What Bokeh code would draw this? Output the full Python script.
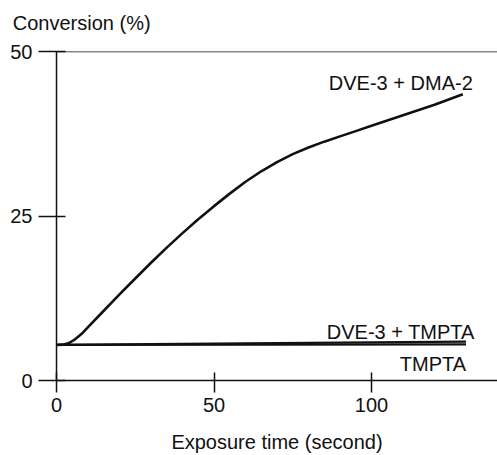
from bokeh.plotting import figure
from bokeh.models import Span, Range1d, FixedTicker, Label, LinearAxis
from bokeh.embed import file_html
from bokeh.resources import INLINE

# Conversion vs. exposure time for three formulations
t_dma = [0, 2, 4, 6, 8, 10, 15, 20, 25, 30, 35, 40, 45, 50, 55, 60, 65, 70, 75, 80, 85, 90,
         95, 100, 110, 120, 129]
conv_dma = [5.4, 5.45, 5.7, 6.3, 7.1, 8.1, 10.6, 13.1, 15.5, 17.9, 20.2, 22.4, 24.5, 26.5, 28.4,
            30.2, 31.8, 33.2, 34.4, 35.4, 36.3, 37.1, 37.9, 38.7, 40.3, 41.9, 43.5]

t_dve_tmpta = [0, 130]
conv_dve_tmpta = [5.4, 5.9]

t_tmpta = [0, 130]
conv_tmpta = [5.4, 5.5]

x_ticks = [0, 50, 100]
y_ticks = [0, 25, 50]

FONT = "Liberation Sans"
FS = "20px"
INK = "#111111"

p = figure(width=497, height=455, output_backend="svg", toolbar_location=None,
           x_range=Range1d(0, 140), y_range=Range1d(0, 50),
           min_border_left=56, min_border_right=0, min_border_top=51, min_border_bottom=75)
p.outline_line_color = None
p.xgrid.visible = False
p.ygrid.visible = False
p.background_fill_color = "white"
p.border_fill_color = "white"

xa = p.xaxis[0]
xa.ticker = FixedTicker(ticks=x_ticks)
xa.minor_tick_line_color = None
xa.major_tick_in = 8
xa.major_tick_out = 12
xa.axis_line_width = 1.5
xa.major_tick_line_width = 1.5
xa.axis_line_color = INK
xa.major_tick_line_color = INK
xa.major_label_text_font = FONT
xa.major_label_text_font_size = FS
xa.major_label_text_color = INK
xa.major_label_standoff = 5
xa.axis_label = "Exposure time (second)"
xa.axis_label_text_font = FONT
xa.axis_label_text_font_size = FS
xa.axis_label_text_font_style = "normal"
xa.axis_label_text_color = INK
xa.axis_label_standoff = 16

ya = p.yaxis[0]
ya.ticker = FixedTicker(ticks=y_ticks)
ya.minor_tick_line_color = None
ya.major_tick_in = 9
ya.major_tick_out = 18
ya.axis_line_width = 1.5
ya.major_tick_line_width = 1.5
ya.axis_line_color = INK
ya.major_tick_line_color = INK
ya.major_label_text_font = FONT
ya.major_label_text_font_size = FS
ya.major_label_text_color = INK
ya.major_label_standoff = 6

# y-axis title set horizontally above the plot's top-left corner
title_axis = LinearAxis(ticker=FixedTicker(ticks=[8]),
                        major_label_overrides={8: "Conversion (%)"},
                        axis_line_color=None, major_tick_line_color=None,
                        minor_tick_line_color=None, major_tick_in=0, major_tick_out=0,
                        major_label_standoff=18, major_label_text_font=FONT,
                        major_label_text_font_size=FS, major_label_text_color=INK)
p.add_layout(title_axis, "above")

# top boundary line at 50 %
p.add_layout(Span(location=50, dimension="width", line_color=INK, line_width=1.5))

p.line(t_tmpta, conv_tmpta, line_color=INK, line_width=2.2)
p.line(t_dve_tmpta, conv_dve_tmpta, line_color=INK, line_width=2.2)
p.line(t_dma, conv_dma, line_color=INK, line_width=2.6, line_join="round")

# curve labels
for txt, x, y in [("DVE-3 + DMA-2", 109.3, 45.2),
                  ("DVE-3 + TMPTA", 109.3, 7.35),
                  ("TMPTA", 119.5, 2.55)]:
    p.add_layout(Label(x=x, y=y, text=txt, text_align="center", text_baseline="alphabetic",
                       text_font=FONT, text_font_size=FS, text_color=INK))

open("out.html", "w").write(file_html(p, INLINE))
